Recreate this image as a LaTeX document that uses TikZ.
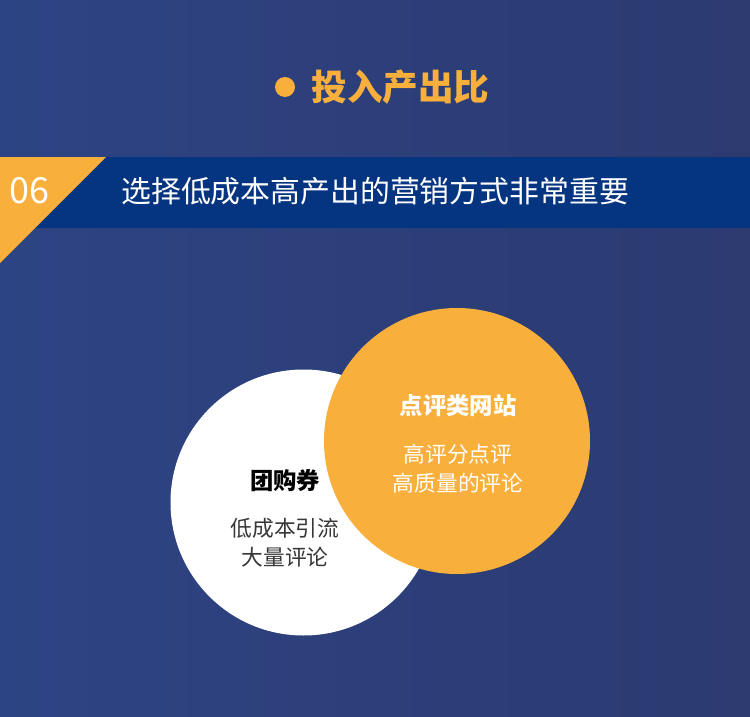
\documentclass[tikz,border=0pt]{standalone}
\usepackage{fontspec}
\newfontfamily\cjk{Noto Sans CJK SC}
\usetikzlibrary{positioning}
\definecolor{slideBlueL}{RGB}{45,68,132}
\definecolor{slideBlueR}{RGB}{44,58,112}
\definecolor{bannerBlue}{RGB}{5,52,128}
\definecolor{accentOrange}{RGB}{248,175,59}
\definecolor{textGray}{RGB}{55,55,55}
\tikzset{
    slide/.style={x=0.75pt, y=-0.75pt, font=\cjk},
    bullet/.style={circle, fill=accentOrange, minimum size=15pt, inner sep=0pt},
    headline/.style={text=accentOrange, inner sep=0pt,
                     font=\cjk\bfseries\fontsize{26.7}{30}\selectfont},
    badge/.style={text=white, inner sep=0pt, font=\cjk\fontsize{27}{30}\selectfont},
    bannertext/.style={text=white, inner sep=0pt, anchor=west,
                       font=\cjk\fontsize{22.4}{26}\selectfont},
    bubble/.style={circle, minimum size=199.5pt, inner sep=0pt},
    bubblehead/.style={inner sep=0pt, font=\cjk\bfseries\fontsize{17.5}{21}\selectfont},
    bubblebody/.style={inner sep=0pt, align=center,
                       font=\cjk\fontsize{16.3}{21.75}\selectfont},
}

\begin{document}
\begin{tikzpicture}[slide]

% --- fond ------------------------------------------------------------
\useasboundingbox (0,0) rectangle (750,717);
\shade[left color=slideBlueL, right color=slideBlueR] (0,0) rectangle (750,717);

% --- titre -----------------------------------------------------------
\node[bullet] (dot) at (285,87) {};
\node[headline, right=12pt of dot] (title) {投入产出比};

% --- bandeau 06 ------------------------------------------------------
\fill[bannerBlue] (0,157) rectangle (750,228);
\fill[accentOrange] (0,157) -- (106,157) -- (0,263) -- cycle;
\node[badge] (num) at (29,191) {06};
\node[bannertext] (claim) at (121,191) {选择低成本高产出的营销方式非常重要};

% --- cercles ---------------------------------------------------------
\node[bubble, fill=white] (coupon) at (303.5,502.5) {};
\node[bubble, fill=accentOrange] (review) at (457,441) {};

\node[bubblehead, text=black] (couponhead) at (285,481) {团购券};
\node[bubblebody, text=textGray, below=19pt of couponhead] (couponbody)
    {低成本引流\\大量评论};

\node[bubblehead, text=white] (reviewhead) at (458,406) {点评类网站};
\node[bubblebody, text=white, below=20pt of reviewhead] (reviewbody)
    {高评分点评\\高质量的评论};

\end{tikzpicture}
\end{document}
